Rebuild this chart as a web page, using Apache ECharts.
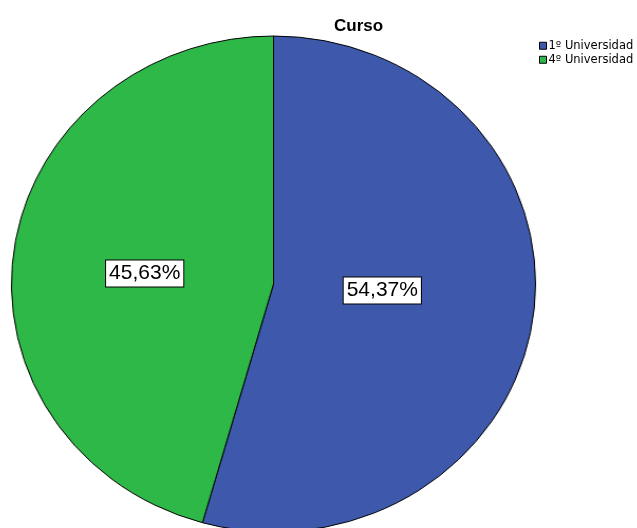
<!DOCTYPE html>
<html>
<head>
<meta charset="utf-8">
<script src="https://cdn.jsdelivr.net/npm/echarts@6/dist/echarts.min.js"></script>
<style>
html,body{margin:0;padding:0;background:#fff;}
#wrap{position:relative;width:637px;height:528px;overflow:hidden;}
#pie{position:absolute;left:0;top:0;width:637px;height:528px;transform-origin:273.5px 284px;transform:scaleX(1.0565);}
#over{position:absolute;left:0;top:0;width:637px;height:528px;}
</style>
</head>
<body>
<div id="wrap"><div id="pie"></div><div id="over"></div></div>
<script>
const title = 'Curso';
const categories = ['1º Universidad', '4º Universidad'];
const values = [54.37, 45.63];
const labels = ['54,37%', '45,63%'];
const colors = ['#3E58AC', '#2EB848'];

const center = [273.5, 284];
const radius = 248;

const pieChart = echarts.init(document.getElementById('pie'), null, {renderer: 'canvas'});
pieChart.setOption({
  animation: false,
  series: [{
    type: 'pie',
    center: center,
    radius: radius,
    startAngle: 90,
    clockwise: true,
    label: {show: false},
    labelLine: {show: false},
    emphasis: {disabled: true},
    itemStyle: {borderColor: '#000', borderWidth: 1},
    data: categories.map((c, i) => ({name: c, value: values[i], itemStyle: {color: colors[i]}}))
  }]
});

const labelShift = [[-17, -11], [-3, 7]];
const over = echarts.init(document.getElementById('over'), null, {renderer: 'canvas'});
over.setOption({
  animation: false,
  title: {
    text: title, left: 329, top: 13,
    textStyle: {fontFamily: 'Liberation Sans, Arial, sans-serif', fontSize: 17, fontWeight: 'bold', color: '#000'}
  },
  legend: {
    orient: 'vertical', left: 539, top: 39, itemWidth: 7, itemHeight: 7, itemGap: 0.5,
    icon: 'rect', selectedMode: false, padding: 0,
    textStyle: {fontFamily: 'DejaVu Sans, sans-serif', fontSize: 11.5, lineHeight: 13.5, color: '#000', padding: [0, 0, 0, -3]},
    data: categories.map((c, i) => ({name: c, itemStyle: {color: colors[i], borderColor: '#000', borderWidth: 1}}))
  },
  series: [{
    type: 'pie',
    center: center,
    radius: radius,
    startAngle: 90,
    clockwise: true,
    emphasis: {disabled: true},
    itemStyle: {color: 'rgba(0,0,0,0)', borderWidth: 0},
    label: {
      show: true, position: 'inside',
      formatter: p => labels[p.dataIndex],
      fontFamily: 'Liberation Sans, Arial, sans-serif', fontSize: 21, color: '#000',
      backgroundColor: '#fff', borderColor: '#000', borderWidth: 1, padding: [3, 3, 2, 3]
    },
    labelLayout: p => ({dx: labelShift[p.dataIndex][0], dy: labelShift[p.dataIndex][1]}),
    data: categories.map((c, i) => ({name: c, value: values[i]}))
  }]
});
</script>
</body>
</html>
